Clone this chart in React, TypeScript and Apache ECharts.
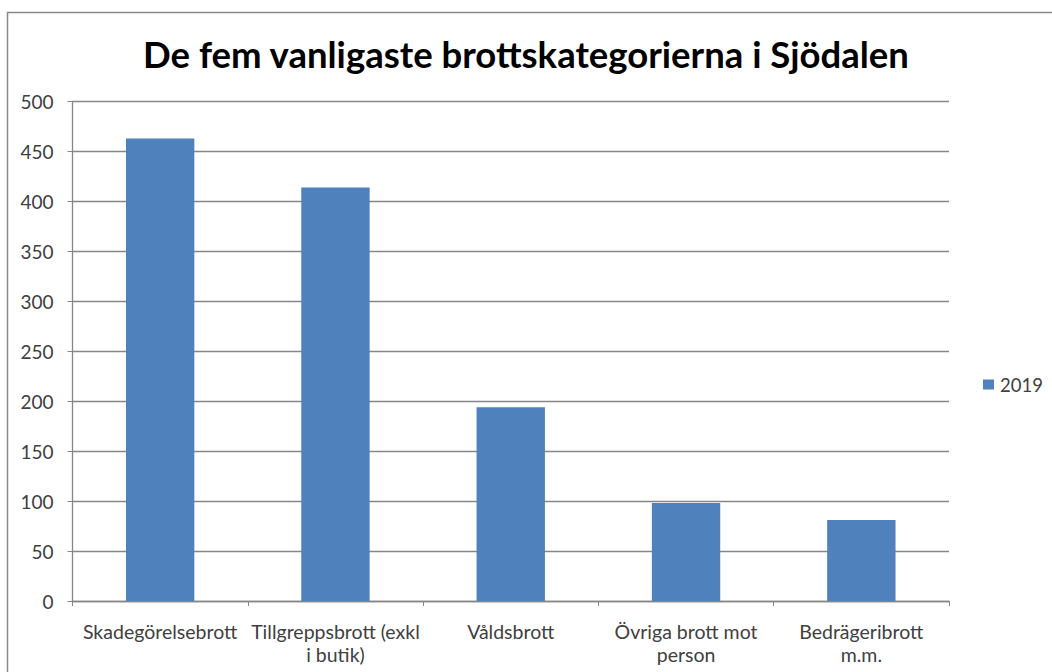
import React, { useEffect, useRef } from "react";
import * as echarts from "echarts";

const categories = [
  "Skadegörelsebrott",
  "Tillgreppsbrott (exkl\ni butik)",
  "Våldsbrott",
  "Övriga brott mot\nperson",
  "Bedrägeribrott\nm.m.",
];
const values2019 = [463, 414, 194, 98, 81];
const seriesName = "2019";
const titleText = "De fem vanligaste brottskategorierna i Sjödalen";

export default function App() {
  const ref = useRef<HTMLDivElement>(null);
  useEffect(() => {
    document.body.style.margin = "0";
    const chart = echarts.init(ref.current!, null, { renderer: "svg" });
    const font = "Lato, 'Open Sans', sans-serif";
    chart.setOption({
      animation: false,
      backgroundColor: "#ffffff",
      title: {
        text: titleText,
        left: "center",
        top: 30,
        textStyle: { fontFamily: font, fontSize: 36.5, fontWeight: "bold", color: "#000000" },
      },
      graphic: [
        {
          type: "rect",
          shape: { x: 7.5, y: 12.5, width: 1200, height: 800 },
          style: { fill: "none", stroke: "#888888", lineWidth: 1.5 },
          silent: true,
        },
      ],
      legend: {
        left: 978,
        top: 370,
        orient: "vertical",
        itemWidth: 11,
        itemHeight: 10,
        icon: "rect",
        itemGap: 6,
        textStyle: { fontFamily: font, fontSize: 18.5, color: "#404040", padding: [0, 0, 0, 1] },
        data: [seriesName],
      },
      grid: { left: 72.5, right: 103, top: 101.5, bottom: 71, containLabel: false },
      xAxis: {
        type: "category",
        data: categories,
        boundaryGap: true,
        axisLine: { lineStyle: { color: "#868686", width: 1.3 } },
        axisTick: { show: true, length: 5, alignWithLabel: false, lineStyle: { color: "#868686" } },
        axisLabel: {
          interval: 0,
          fontFamily: font,
          fontSize: 19.5,
          color: "#404040",
          lineHeight: 23,
          margin: 19,
        },
      },
      yAxis: {
        type: "value",
        min: 0,
        max: 500,
        interval: 50,
        axisLine: { show: true, lineStyle: { color: "#868686", width: 1.3 } },
        axisTick: { show: true, length: 5, lineStyle: { color: "#868686" } },
        splitLine: { show: true, lineStyle: { color: "#868686", width: 1.3 } },
        axisLabel: { fontFamily: font, fontSize: 19, color: "#404040", margin: 19 },
      },
      series: [
        {
          name: seriesName,
          type: "bar",
          data: values2019,
          barWidth: "39%",
          itemStyle: { color: "#4F81BD" },
        },
      ],
    });
    return () => chart.dispose();
  }, []);
  return <div ref={ref} style={{ width: 1052, height: 672 }} />;
}
